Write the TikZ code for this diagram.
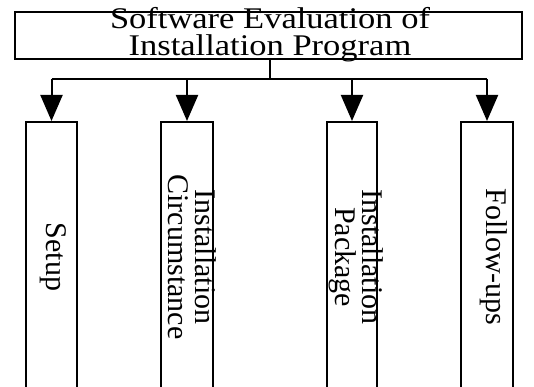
\documentclass[tikz,border=0pt]{standalone}
\usepackage{fontspec}
\setmainfont{Liberation Serif}
\newfontfamily\headfont[FakeStretch=1.15]{Liberation Serif}
\newfontfamily\branchfont{Liberation Serif}
\usetikzlibrary{arrows.meta}

\begin{document}
\begin{tikzpicture}[x=1pt, y=-1pt, line width=2pt,
  frame/.style={draw, rectangle, inner sep=0pt, line width=2pt},
  headtext/.style={inner sep=0pt, align=center,
    font=\headfont\fontsize{30}{27}\selectfont},
  branchtext/.style={inner sep=0pt, align=center, rotate=-90,
    font=\branchfont\fontsize{30}{27}\selectfont},
  feed/.style={-{Triangle[width=22pt,length=26pt]}, line width=2pt}
]
\fill[white] (0,0) rectangle (534,387);
\useasboundingbox (0,0) rectangle (534,387);
\clip (0,0) rectangle (534,387);

% root box and its caption
\node[frame, minimum width=507pt, minimum height=47pt] (top) at (268.5,35.5) {};
\node[headtext] (toptext) at (270,35) {Software Evaluation of\\Installation Program};

% four tall branch boxes (running off the lower edge)
\node[frame, minimum width=51pt, minimum height=270pt] (b1) at (51.5,257) {};
\node[frame, minimum width=52pt, minimum height=270pt] (b2) at (187,257) {};
\node[frame, minimum width=50pt, minimum height=270pt] (b3) at (352,257) {};
\node[frame, minimum width=52pt, minimum height=270pt] (b4) at (487,257) {};

% branch captions
\node[branchtext] (t1) at (53.5,257) {Setup};
\node[branchtext] (t2) at (192,257) {Installation\\Circumstance};
\node[branchtext] (t3) at (356,257) {Installation\\Package};
\node[branchtext] (t4) at (494,257) {Follow-ups};

% connector tree
\coordinate (split) at (270,79);
\draw (split |- top.south) -- (split);
\draw (b1.north |- split) -- (b4.north |- split);
\foreach \b in {b1,b2,b3,b4}
  \draw[feed] (\b.north |- split) -- (\b.north);
\end{tikzpicture}
\end{document}
